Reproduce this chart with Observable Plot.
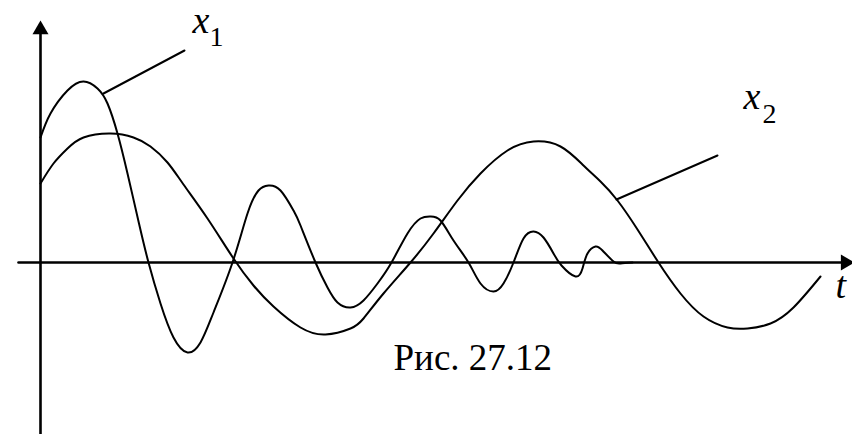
<!DOCTYPE html>
<html>
<head>
<meta charset="utf-8">
<script src="https://cdn.jsdelivr.net/npm/d3@7"></script>
<script src="https://cdn.jsdelivr.net/npm/@observablehq/plot@0.6"></script>
<style>
  html, body { margin: 0; padding: 0; background: #fff; }
  #chart svg { display: block; }
</style>
</head>
<body>
<div id="chart"></div>
<script>
// Curve x1 (fast damped oscillation): time t and value
const x1T = [0, 1.0, 2.7, 4.3, 5.7, 6.7, 7.7, 8.7, 9.85, 10.8, 12.0, 13.3, 14.7, 16.0, 17.3, 19.2, 20.7, 21.8, 22.8, 24.0, 25.3, 26.0, 27.5, 28.7, 29.7, 31.0, 32.3, 33.7, 35.1, 36.7, 38.0, 39.0, 40.0, 41.3, 42.8, 44.0, 45.3, 46.3, 47.3, 48.3, 49.3, 50.3, 51.3, 52.1, 53.5, 54.2, 54.7, 55.5, 56.2, 57.3, 58.0, 59.2];
const x1V = [12.5, 14.9, 17.2, 18.1, 17.4, 15.9, 12.9, 8.9, 3.9, 0, -4.1, -7.5, -9.0, -8.0, -5.0, 0, 4.9, 7.2, 7.7, 7.2, 5.2, 3.7, 0, -2.5, -4.0, -4.5, -3.8, -2.1, 0, 2.9, 4.4, 4.6, 4.2, 2.2, 0, -2.1, -2.9, -2.1, 0, 2.4, 3.1, 2.5, 0.9, -0.3, -1.4, -0.6, 0.9, 1.6, 1.2, 0.1, -0.1, 0];

// Curve x2 (slow oscillation)
const x2T = [0, 1.3, 2.7, 4.3, 7.0, 9.3, 11.0, 12.7, 14.3, 16.7, 19.3, 21.3, 23.3, 26.0, 28.5, 31.0, 32.3, 34.3, 37.0, 39.3, 41.7, 44.0, 46.7, 49.3, 52.0, 54.3, 56.0, 57.7, 59.7, 61.8, 64.0, 66.3, 68.7, 70.7, 73.0, 75.3, 78.0];
const x2V = [7.9, 9.9, 11.4, 12.5, 12.9, 12.5, 11.6, 10.0, 7.8, 4.4, 0.4, -2.3, -4.4, -6.5, -7.2, -6.6, -5.6, -3.1, 0, 2.9, 6.2, 8.9, 11.2, 12.1, 11.6, 9.7, 8.1, 6.2, 3.3, 0, -3.1, -5.4, -6.5, -6.6, -6.1, -4.5, -1.4];

// Leader lines for the labels
const lead1T = [6.3, 14.4];
const lead1V = [16.9, 21.2];
const lead2T = [57.6, 67.7];
const lead2V = [6.3, 10.7];

// Text labels
const varText = ["x", "x", "t"];
const varT = [15.2, 70.3, 79.5];
const varV = [23.0, 15.4, -3.5];
const subText = ["1", "2"];
const subT = [16.9, 72.2];
const subV = [21.7, 14.0];
const captionText = ["Рис. 27.12"];
const captionT = [35.3];
const captionV = [-10.7];

const serif = "Times New Roman, Liberation Serif, Tinos, DejaVu Serif, serif";
const ink = "#000";

const chart = Plot.plot({
  width: 852,
  height: 434,
  margin: 0,
  style: { background: "#fff", overflow: "visible" },
  x: { domain: [-4, 81.2], axis: null },
  y: { domain: [-17.2, 26.2], axis: null },
  marks: [
    // axes
    Plot.line([[-2.2, 0], [80.6, 0]], { x: d => d[0], y: d => d[1], stroke: ink, strokeWidth: 2.6 }),
    Plot.line([[0, -18], [0, 23.1]], { x: d => d[0], y: d => d[1], stroke: ink, strokeWidth: 2.6 }),
    Plot.dot([[0, 23.28]], { x: d => d[0], y: d => d[1], symbol: "triangle", r: 5.94, fill: ink, stroke: "none" }),
    Plot.dot([[80.5, 0]], { x: d => d[0], y: d => d[1], symbol: "triangle", r: 5.94, fill: ink, stroke: "none", rotate: 90 }),
    // curves
    Plot.line(x1T, { x: x1T, y: x1V, curve: "natural", stroke: ink, strokeWidth: 2 }),
    Plot.line(x2T, { x: x2T, y: x2V, curve: "natural", stroke: ink, strokeWidth: 2 }),
    // leaders
    Plot.line(lead1T, { x: lead1T, y: lead1V, stroke: ink, strokeWidth: 2 }),
    Plot.line(lead2T, { x: lead2T, y: lead2V, stroke: ink, strokeWidth: 2 }),
    // labels
    Plot.text(varText, { x: varT, y: varV, text: varText, textAnchor: "start", lineAnchor: "bottom",
      fontFamily: serif, fontSize: 38, fontStyle: "italic", fill: ink }),
    Plot.text(subText, { x: subT, y: subV, text: subText, textAnchor: "start", lineAnchor: "bottom",
      fontFamily: serif, fontSize: 28, fill: ink }),
    Plot.text(captionText, { x: captionT, y: captionV, text: captionText, textAnchor: "start", lineAnchor: "bottom",
      fontFamily: serif, fontSize: 37, fill: ink })
  ]
});
document.getElementById("chart").appendChild(chart);
</script>
</body>
</html>
